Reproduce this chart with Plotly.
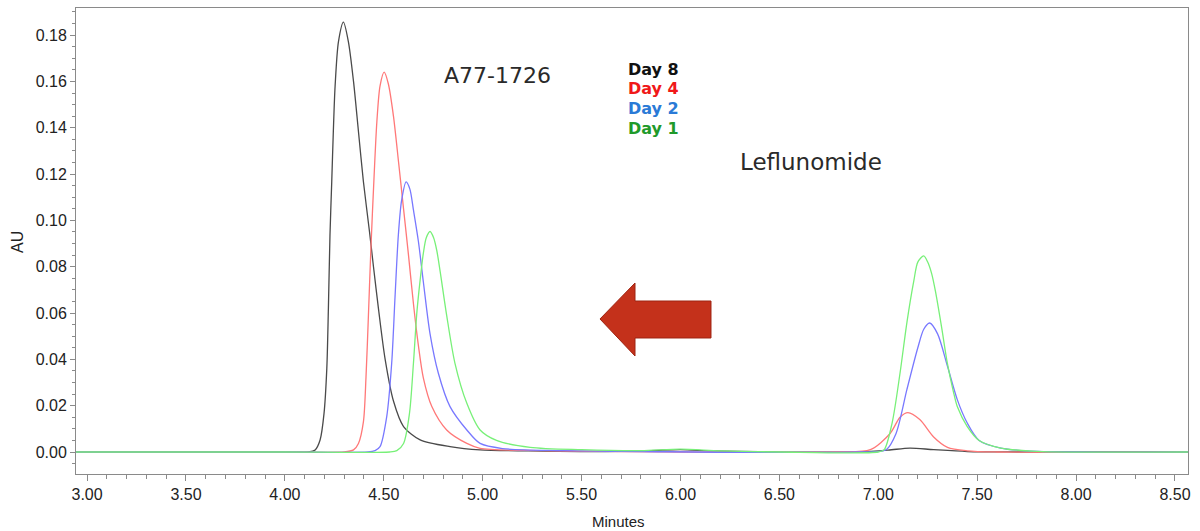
import plotly.graph_objects as go

# ---- data ----
day8_x = [2.944, 3.5, 4.0, 4.12, 4.153, 4.178, 4.198, 4.212, 4.22, 4.228, 4.237, 4.245, 4.254, 4.271, 4.296,
          4.321, 4.347, 4.372, 4.397, 4.428, 4.448, 4.473, 4.507, 4.549, 4.6, 4.684, 4.835, 4.987, 5.3, 5.6,
          5.85, 6.0, 6.15, 6.4, 6.9, 7.05, 7.16, 7.28, 7.45, 7.7, 8.566]
day8_y = [0, 0, 0, 0, 0.0009, 0.0052, 0.0167, 0.036, 0.062, 0.0935, 0.1168, 0.1384, 0.158, 0.1772, 0.1856,
          0.1772, 0.160, 0.1384, 0.1168, 0.095, 0.080, 0.062, 0.040, 0.022, 0.011, 0.0052, 0.0023, 0.0009, 0.0004, 0.0002,
          0.0006, 0.001, 0.0005, 0.0001, 0, 0.0008, 0.0017, 0.001, 0.0002, 0, 0]

day4_x = [2.944, 3.5, 4.0, 4.3, 4.347, 4.372, 4.397, 4.41, 4.422, 4.435, 4.451, 4.465, 4.481, 4.502, 4.523,
          4.549, 4.575, 4.60, 4.625, 4.65, 4.675, 4.70, 4.743, 4.818, 4.92, 4.987, 5.3, 5.7, 6.0, 6.8, 6.96, 7.06,
          7.11, 7.15, 7.21, 7.28, 7.35, 7.45, 7.6, 8.566]
day4_y = [0, 0, 0, 0, 0.0009, 0.0037, 0.013, 0.032, 0.058, 0.088, 0.119, 0.1425, 0.158, 0.164, 0.159,
          0.145, 0.125, 0.105, 0.085, 0.064, 0.046, 0.032, 0.0196, 0.0095, 0.0037, 0.0016, 0.0006, 0.0002, 0, 0, 0.001, 0.008,
          0.015, 0.017, 0.014, 0.0065, 0.002, 0.0005, 0, 0]

day2_x = [2.944, 3.5, 4.0, 4.42, 4.456, 4.481, 4.515, 4.54, 4.557, 4.574, 4.59, 4.613, 4.632, 4.65, 4.675,
          4.70, 4.734, 4.776, 4.835, 4.92, 4.987, 5.1, 5.4, 5.8, 6.9, 7.04, 7.09, 7.145, 7.20, 7.23, 7.26,
          7.30, 7.35, 7.40, 7.45, 7.51, 7.62, 7.75, 8.0, 8.566]
day2_y = [0, 0, 0, 0, 0.0006, 0.0023, 0.0153, 0.0383, 0.067, 0.094, 0.1085, 0.1166, 0.1135, 0.1045, 0.091,
          0.0735, 0.051, 0.034, 0.0196, 0.0095, 0.0037, 0.0015, 0.0006, 0.0002, 0, 0.001, 0.008, 0.027, 0.045, 0.053, 0.0557,
          0.051, 0.037, 0.0225, 0.0125, 0.005, 0.0017, 0.0005, 0, 0]

day1_x = [2.944, 3.5, 4.0, 4.53, 4.566, 4.6, 4.63, 4.65, 4.667, 4.684, 4.70, 4.715, 4.734, 4.752, 4.768,
          4.785, 4.818, 4.86, 4.92, 4.987, 5.07, 5.24, 5.5, 5.8, 6.0, 6.2, 6.5, 7.0, 7.03, 7.07, 7.11, 7.145,
          7.18, 7.20, 7.23, 7.25, 7.27, 7.29, 7.32, 7.35, 7.38, 7.40, 7.45, 7.51, 7.62, 7.8, 8.566]
day1_y = [0, 0, 0, 0, 0.0006, 0.0037, 0.0167, 0.0383, 0.0599, 0.0743, 0.0858, 0.0925, 0.0952, 0.0925, 0.087,
          0.078, 0.059, 0.0383, 0.021, 0.0095, 0.005, 0.002, 0.001, 0.0006, 0.0012, 0.0005, 0, 0, 0.001, 0.0125, 0.034, 0.056,
          0.074, 0.082, 0.0847, 0.082, 0.077, 0.069, 0.054, 0.038, 0.026, 0.0195, 0.011, 0.005, 0.0017, 0.0003, 0]

series_names = ["Day 8", "Day 4", "Day 2", "Day 1"]
line_colors = ["#4a4a4a", "#ff7878", "#7878ff", "#78f078"]
label_colors = ["#111111", "#f01818", "#2a7ad6", "#1f9a2a"]

x_ticks = [3.0, 3.5, 4.0, 4.5, 5.0, 5.5, 6.0, 6.5, 7.0, 7.5, 8.0, 8.5]
y_ticks = [0.00, 0.02, 0.04, 0.06, 0.08, 0.10, 0.12, 0.14, 0.16, 0.18]

fig = go.Figure()
series = [(day8_x, day8_y), (day4_x, day4_y), (day2_x, day2_y), (day1_x, day1_y)]
for (xs, ys), name, col in zip(series, series_names, line_colors):
    fig.add_trace(go.Scatter(x=xs, y=ys, mode="lines", name=name,
                             line=dict(color=col, width=1.3, shape="spline", smoothing=0.8),
                             showlegend=False, hoverinfo="skip"))

L, R, T, B = 76, 12, 8, 57
W, H = 1200, 531
pw, ph = W - L - R, H - T - B

def px(x):
    return (x - L) / pw

def py(y):
    return (H - B - y) / ph

# arrow shape (decoration)
pts = [(600, 319), (635, 283), (635, 301), (711, 301), (711, 338), (635, 338), (635, 356)]
path = "M " + " L ".join(f"{px(a):.5f},{py(b):.5f}" for a, b in pts) + " Z"
fig.add_shape(type="path", path=path, xref="paper", yref="paper",
              fillcolor="#c4311b", line=dict(color="#9e2412", width=1))

def note(text, x, y, size, color, family="DejaVu Sans", xanchor="center", angle=0):
    fig.add_annotation(text=text, x=px(x), y=py(y), xref="paper", yref="paper", showarrow=False,
                       xanchor=xanchor, yanchor="middle", textangle=angle,
                       font=dict(family=family, size=size, color=color))

note("A77-1726", 497, 75, 22, "#2a2a2a")
note("Leflunomide", 811, 162, 23, "#2a2a2a")
for i, (name, col) in enumerate(zip(series_names, label_colors)):
    note(f"<b>{name}</b>", 626, 69 + i * 19.7, 16, col, xanchor="left")

# axis titles
note("Minutes", 618, 521, 15, "#222222", family="Liberation Sans, Arial")
note("AU", 18, 242, 16, "#222222", family="Liberation Sans, Arial", angle=-90)

fig.update_layout(
    width=W, height=H, margin=dict(l=L, r=R, t=T, b=B, autoexpand=False),
    paper_bgcolor="white", plot_bgcolor="white",
    xaxis=dict(range=[2.944, 8.566], tickvals=x_ticks, ticktext=[f"{v:.2f}" for v in x_ticks], automargin=False,
               showgrid=False, zeroline=False, showline=True, mirror=True, linecolor="#8a8a8a", linewidth=1,
               ticks="outside", ticklen=6, tickcolor="#8a8a8a",
               minor=dict(dtick=0.1, tick0=3.0, ticks="outside", ticklen=4, tickcolor="#8a8a8a", showgrid=False),
               tickfont=dict(family="Liberation Sans, Arial", size=16, color="#222222")),
    yaxis=dict(range=[-0.0095, 0.1917], tickvals=y_ticks, ticktext=[f"{v:.2f}" for v in y_ticks], automargin=False,
               showgrid=False, zeroline=False, showline=True, mirror=True, linecolor="#8a8a8a", linewidth=1,
               ticks="outside", ticklen=5, tickcolor="#8a8a8a",
               minor=dict(dtick=0.005, tick0=0, ticks="outside", ticklen=3, tickcolor="#8a8a8a", showgrid=False),
               tickfont=dict(family="Liberation Sans, Arial", size=16, color="#222222")),
)

fig.write_html("out.html")
